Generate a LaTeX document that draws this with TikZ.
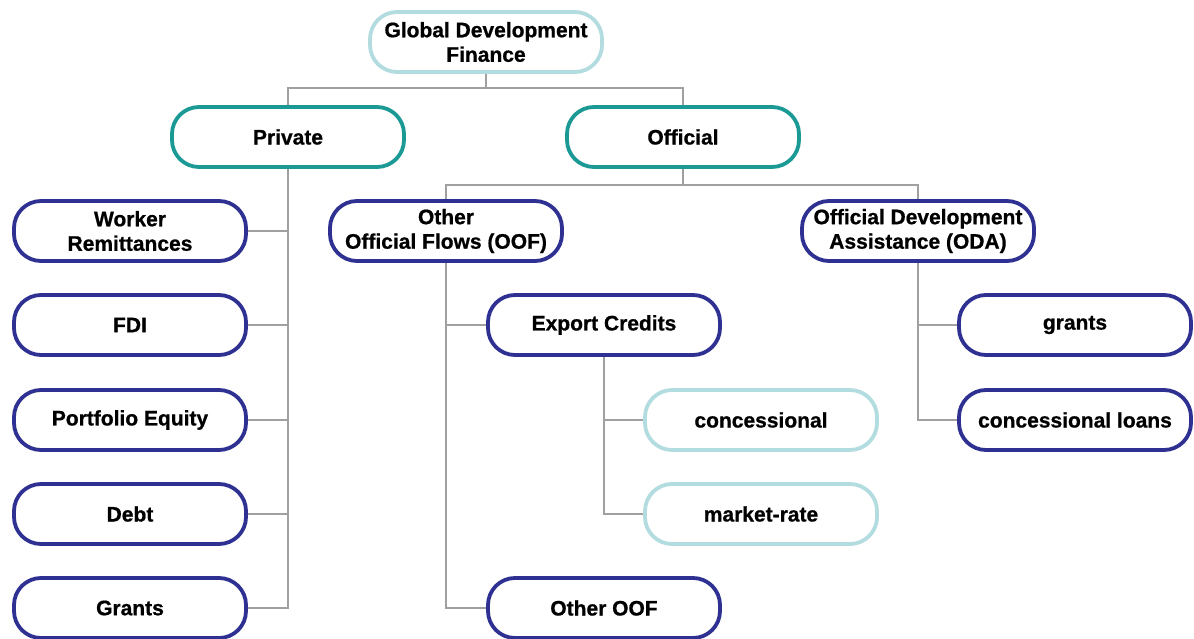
\documentclass[tikz,border=0pt]{standalone}
\usepackage{fontspec}
\setmainfont[BoldFeatures={FakeBold=0.8}]{Liberation Sans}
\usetikzlibrary{backgrounds}
\definecolor{navy}{HTML}{2E3192}
\definecolor{lteal}{HTML}{B2DCDF}
\definecolor{dteal}{HTML}{1A9995}
\definecolor{conn}{HTML}{A0A0A0}
\begin{document}
\begin{tikzpicture}[x=1pt,y=-1pt,
  box/.style={draw, rounded corners=27pt, line width=3.8pt, minimum width=232pt, minimum height=60pt,
    align=center, fill=white, inner sep=0pt, font=\bfseries\fontsize{21}{24.5}\selectfont},
  bluebox/.style={box, draw=navy},
  lightbox/.style={box, draw=lteal},
  tealbox/.style={box, draw=dteal},
  link/.style={draw=conn, line width=1.4pt}]
\useasboundingbox (0,0) rectangle (1194,639);
\node[lightbox] (gdf) at (486,42) {Global Development\\Finance};
\node[tealbox] (priv) at (288,137) {Private};
\node[tealbox] (off) at (683,137) {Official};
\node[bluebox] (wr) at (130,231) {Worker\\Remittances};
\node[bluebox] (fdi) at (130,325) {FDI};
\node[bluebox] (pe) at (130,420) {Portfolio Equity};
\node[bluebox] (debt) at (130,514) {Debt};
\node[bluebox] (grants) at (130,608) {Grants};
\node[bluebox] (oof) at (446,231) {Other\\Official Flows (OOF)};
\node[bluebox] (oda) at (918,231) {Official Development\\Assistance (ODA)};
\node[bluebox] (ec) at (604,325) {Export Credits};
\node[lightbox] (conc) at (761,420) {concessional};
\node[lightbox] (mr) at (761,514) {market-rate};
\node[bluebox] (ooof) at (604,608) {Other OOF};
\node[bluebox] (gr) at (1075,325) {grants};
\node[bluebox] (cl) at (1075,420) {concessional loans};
\begin{scope}[on background layer]
\draw[link] (gdf.south) -- ++(0,14) -| (priv.north);
\draw[link] (gdf.south) -- ++(0,14) -| (off.north);
\draw[link] (off.south) -- ++(0,16) -| (oof.north);
\draw[link] (off.south) -- ++(0,16) -| (oda.north);
\foreach \c in {wr,fdi,pe,debt,grants} \draw[link] (priv.south) |- (\c.east);
\draw[link] (oof.south) |- (ec.west);
\draw[link] (oof.south) |- (ooof.west);
\draw[link] (ec.south) |- (conc.west);
\draw[link] (ec.south) |- (mr.west);
\draw[link] (oda.south) |- (gr.west);
\draw[link] (oda.south) |- (cl.west);
\end{scope}
\end{tikzpicture}
\end{document}
